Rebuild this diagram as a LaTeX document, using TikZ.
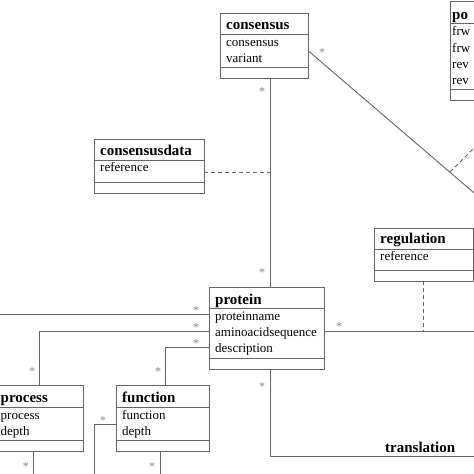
\documentclass[tikz,border=0pt]{standalone}
\usepackage{fontspec}
\setmainfont{Liberation Serif}
\usetikzlibrary{fit}
\definecolor{ln}{RGB}{100,100,100}
\definecolor{st}{RGB}{135,135,135}
\newcommand\umlclass[7]{%
  \path (#2,#3) coordinate (#1-nw) (#4,#5) coordinate (#1-se);
  \node[box, fit=(#1-nw)(#1-se)] (#1) {};
  \draw[conn] (#1.west |- 0,#6) -- (#1.east |- 0,#6) (#1.west |- 0,#7) -- (#1.east |- 0,#7);}
\begin{document}
\begin{tikzpicture}[x=1pt,y=-1pt,
  box/.style={draw=ln, line width=0.9pt, inner sep=0pt},
  conn/.style={draw=ln, line width=0.9pt},
  dep/.style={conn, dash pattern=on 4pt off 3pt},
  ttl/.style={font=\fontsize{15}{15}\selectfont\bfseries, anchor=base west, inner sep=0pt},
  attr/.style={font=\fontsize{13}{13}\selectfont, anchor=base west, inner sep=0pt},
  star/.style={font=\fontsize{12}{12}\selectfont, text=st, anchor=base, inner sep=0pt}]
\useasboundingbox (0,0) rectangle (474,474);
\clip (0,0) rectangle (474,474);
\fill[white] (0,0) rectangle (474,474);

% classes
\umlclass{consensus}{220}{13}{308}{78}{34}{67}
\node[ttl] (t1) at (226,29) {consensus};
\node[attr] (a11) at (226,46) {consensus};
\node[attr] (a12) at (226,62) {variant};

\umlclass{consensusdata}{94}{139}{204}{193}{160}{182}
\node[ttl] (t2) at (100,155.5) {consensusdata};
\node[attr] (a21) at (100,171.5) {reference};

\umlclass{po}{450}{1}{500}{100}{23}{89}
\node[ttl] (t3) at (452,19) {po};
\node[attr] (a31) at (452,35) {frw};
\node[attr] (a32) at (452,52) {frw};
\node[attr] (a33) at (452,68) {rev};
\node[attr] (a34) at (452,84) {rev};

\umlclass{regulation}{374}{228}{473}{281}{249}{270}
\node[ttl] (t4) at (380,243) {regulation};
\node[attr] (a41) at (380,260) {reference};

\umlclass{protein}{209}{287}{324}{369}{308}{358}
\node[ttl] (t5) at (215,304) {protein};
\node[attr] (a51) at (215,320) {proteinname};
\node[attr] (a52) at (215,336.5) {aminoacidsequence};
\node[attr] (a53) at (215,352.5) {description};

\umlclass{process}{-11}{385}{83}{451}{407}{440}
\node[ttl] (t6) at (0.5,402.5) {process};
\node[attr] (a61) at (0.5,419.5) {process};
\node[attr] (a62) at (0.5,435.5) {depth};

\umlclass{function}{116}{385}{209}{451}{407}{440}
\node[ttl] (t7) at (122,402.5) {function};
\node[attr] (a71) at (122,419.5) {function};
\node[attr] (a72) at (122,435.5) {depth};

% connectors
\coordinate (far1) at (480,198);
\coordinate (dj) at (450,172);
\coordinate (far2) at (480,142);
\coordinate (cdj) at (270,172);
\coordinate (rj) at (423,331);
\draw[conn] (consensus.south -| 270,0) -- (protein.north -| 270,0);
\draw[dep] (consensusdata.east |- 0,172) -- (cdj);
\draw[conn] (consensus.east |- 0,51) -- (far1);
\draw[dep] (dj) -- (far2);
\draw[conn] (protein.east |- 0,331) -- (480,331);
\draw[dep] (regulation.south -| 423,0) -- (rj);
\draw[conn] (protein.west |- 0,314) -- (-5,314);
\draw[conn] (protein.west |- 0,331) -| (process.north -| 39,0);
\draw[conn] (protein.west |- 0,347) -| (function.north -| 165,0);
\draw[conn] (function.west |- 0,424) -| (94,480);
\draw[conn] (process.south -| 33,0) -- (33,480);
\draw[conn] (function.south -| 160,0) -- (160,480);
\draw[conn] (protein.south -| 270,0) |- (480,456);
\node[ttl] (translation) at (385,452) {translation};

% multiplicities
\foreach \n/\x/\y in {s1/262/89, s2/262/270, s3/322/50, s4/339/324, s5/196/308,
  s6/196/325, s7/196/341, s8/32/369, s9/158/369, s10/103/418, s11/26/464,
  s12/152/464, s13/262/384}
  \node[star] (\n) at (\x,\y+6) {*};
\end{tikzpicture}
\end{document}
